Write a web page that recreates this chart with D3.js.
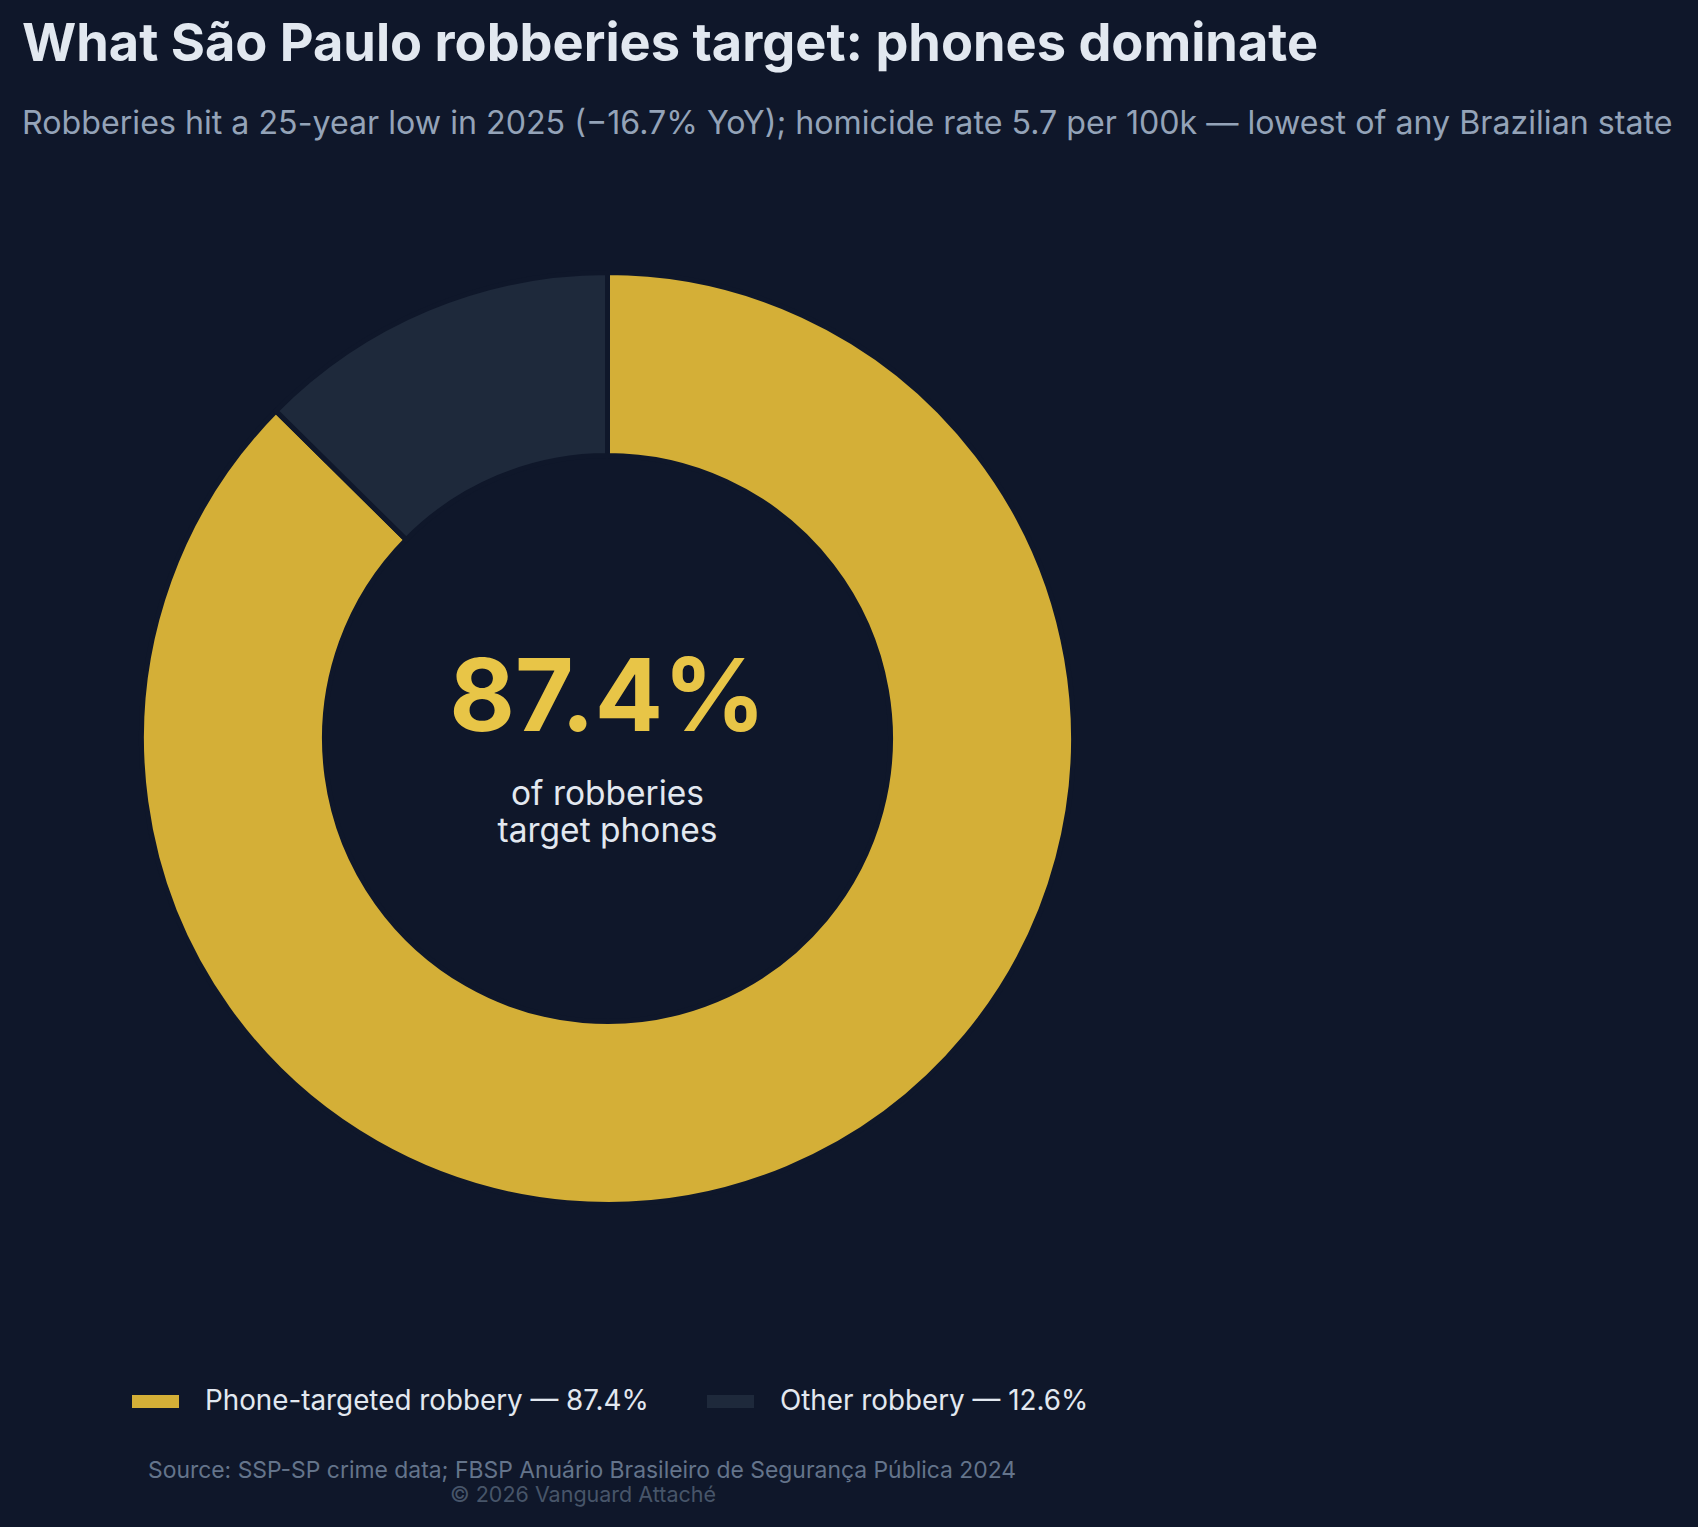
<!DOCTYPE html><html><head><meta charset="utf-8"><script src="https://cdn.jsdelivr.net/npm/d3@7"></script>
<style>body{margin:0;background:#0f172a}</style></head><body><svg id="c" width="1698" height="1527"></svg><script>
const categories=["Phone-targeted robbery","Other robbery"];
const values=[87.4,12.6];
const colors=["#d4af37","#1e293b"];
const svg=d3.select("#c");
svg.append("rect").attr("width",1698).attr("height",1527).attr("fill","#0f172a");
const F="Inter, 'Noto Sans', sans-serif";
svg.append("text").attr("x",22).attr("y",61).attr("fill","#e2e8f0").attr("font-family",F).attr("font-weight",700).attr("font-size",52.3).attr("letter-spacing",0).text("What São Paulo robberies target: phones dominate");
svg.append("text").attr("x",22).attr("y",134).attr("fill","#94a3b8").attr("font-family",F).attr("font-size",32.2).text("Robberies hit a 25-year low in 2025 (−16.7% YoY); homicide rate 5.7 per 100k — lowest of any Brazilian state");
const g=svg.append("g").attr("transform","translate(607.5,738.5)");
const pie=d3.pie().sort(null).value(d=>d)(values);
const arc=d3.arc().innerRadius(283).outerRadius(466);
g.selectAll("path").data(pie).join("path").attr("d",arc).attr("fill",(d,i)=>colors[i]).attr("stroke","#0f172a").attr("stroke-width",5);
g.append("text").attr("text-anchor","middle").attr("y",-8).attr("fill","#e8c547").attr("font-family",F).attr("font-weight",700).attr("font-size",101).text(values[0].toFixed(1)+"%");
g.append("text").attr("text-anchor","middle").attr("y",66).attr("fill","#e2e8f0").attr("font-family",F).attr("font-size",33.5).text("of robberies");
g.append("text").attr("text-anchor","middle").attr("y",103).attr("fill","#e2e8f0").attr("font-family",F).attr("font-size",33.5).text("target phones");
const lx=[132,707];
categories.forEach((c,i)=>{
 svg.append("rect").attr("x",lx[i]).attr("y",1395).attr("width",47).attr("height",13).attr("fill",colors[i]);
 svg.append("text").attr("x",lx[i]+73).attr("y",1410).attr("fill","#e2e8f0").attr("font-family",F).attr("font-size",27.8).text(c+" — "+values[i].toFixed(1)+"%");
});
svg.append("text").attr("x",148).attr("y",1478).attr("fill","#64748b").attr("font-family",F).attr("font-size",22.9).text("Source: SSP-SP crime data; FBSP Anuário Brasileiro de Segurança Pública 2024");
svg.append("text").attr("x",583).attr("y",1502).attr("text-anchor","middle").attr("fill","#475569").attr("font-family",F).attr("font-size",21.5).text("© 2026 Vanguard Attaché");
</script></body></html>
